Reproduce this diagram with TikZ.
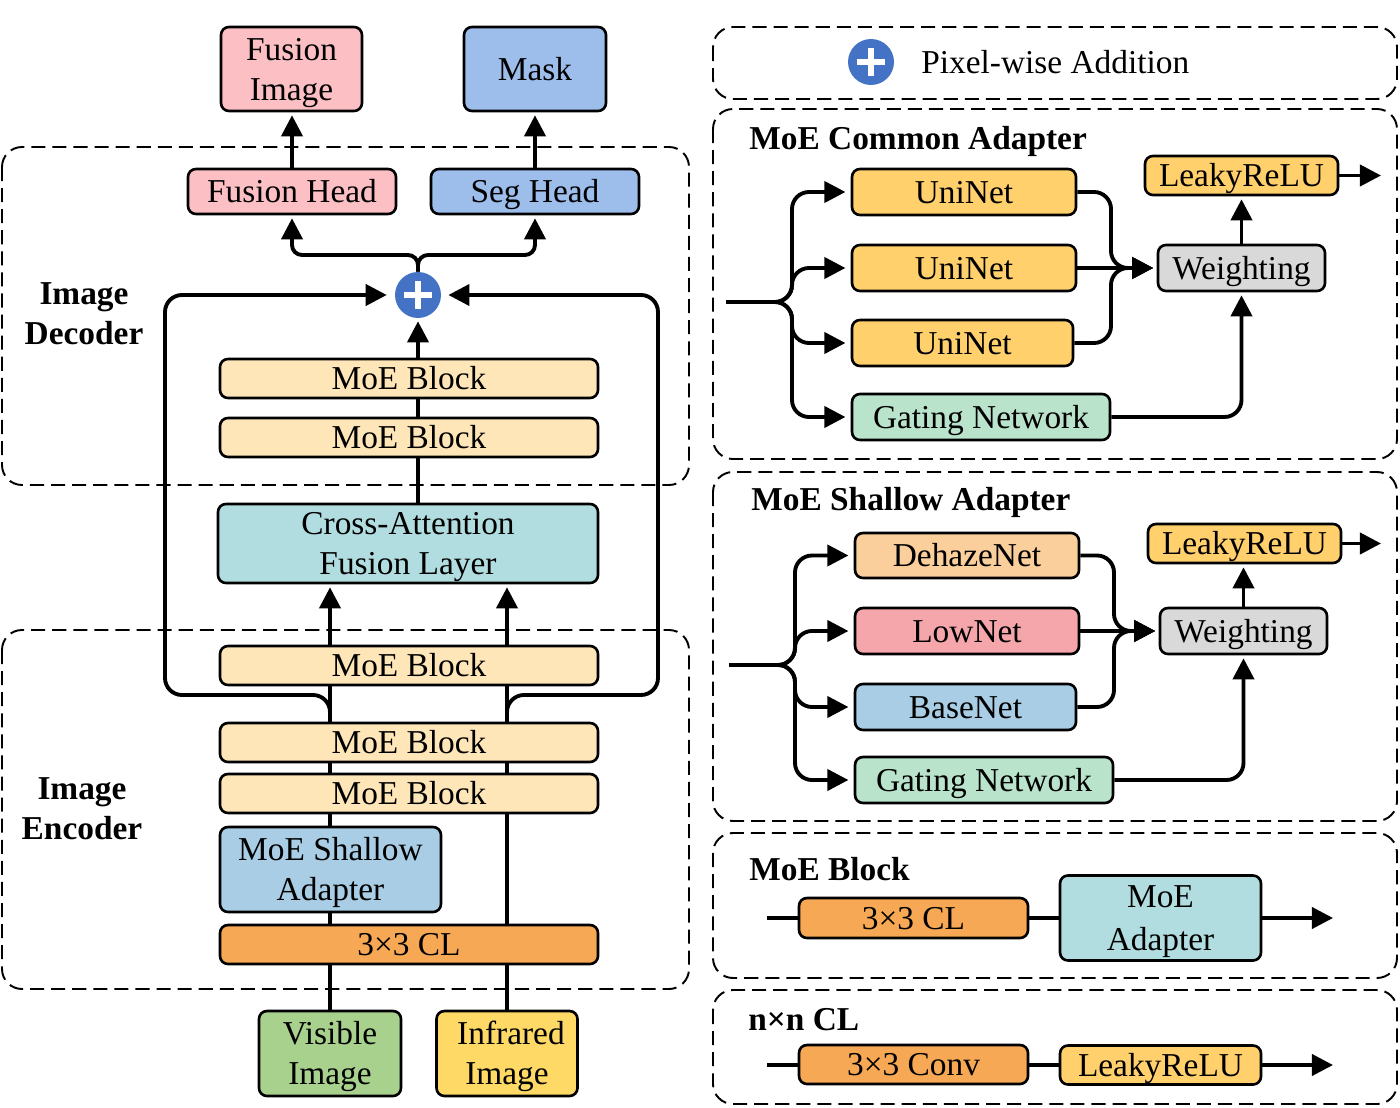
\documentclass[tikz,border=0pt]{standalone}
\usepackage{fontspec}
\setmainfont{Liberation Serif}
\usetikzlibrary{arrows.meta,backgrounds}

\definecolor{fusionpink}{HTML}{FBBFC4}
\definecolor{maskblue}{HTML}{9DBDEB}
\definecolor{blockcream}{HTML}{FFE6B8}
\definecolor{crossteal}{HTML}{B1DDE0}
\definecolor{shallowblue}{HTML}{A8CDE4}
\definecolor{clorange}{HTML}{F7A854}
\definecolor{visgreen}{HTML}{A9D18E}
\definecolor{infyellow}{HTML}{FFD966}
\definecolor{unigold}{HTML}{FFD06B}
\definecolor{gatemint}{HTML}{B9E3CB}
\definecolor{weightgray}{HTML}{D9D9D9}
\definecolor{dehazepeach}{HTML}{FBCF9B}
\definecolor{lowrose}{HTML}{F4A6AA}
\definecolor{addblue}{HTML}{4472C4}
\newcommand{\boxstrut}{\rule[-4.5pt]{0pt}{21.6pt}}

\begin{document}
\begin{tikzpicture}[
    x=0.02cm, y=-0.02cm,
    label text/.style={
      font=\fontsize{19}{22.7}\selectfont, inner sep=0pt, align=center,
      execute at begin node=\boxstrut,
    },
    box/.style 2 args={
      label text, draw=black, line width=1.5pt, rounded corners=0.16cm,
      minimum width=#1*0.02cm, minimum height=#2*0.02cm,
    },
    title/.style={label text, font=\fontsize{19}{22.7}\selectfont\bfseries},
    region/.style={draw=black, line width=1.1pt, dash pattern=on 8pt off 4pt, rounded corners=0.4cm},
    conn/.style={draw=black, line width=2.2pt},
    arr/.style={conn, -{Triangle[length=12pt,width=12pt]}, shorten >=1.7pt},
    curved/.style={rounded corners=0.34cm},
    addmark/.style={
      circle, fill=addblue, inner sep=0pt, minimum size=0.92cm,
      path picture={
        \draw[white, line width=3.3pt] (path picture bounding box.center) +(-14,0) -- +(14,0);
        \draw[white, line width=3.3pt] (path picture bounding box.center) +(0,-14) -- +(0,14);
      },
    },
  ]
  \useasboundingbox (0,0) rectangle (1400,1108);

  % main column
  \node[box={141}{84}, fill=fusionpink] (fimg) at (291.5,69) {\boxstrut Fusion\\\boxstrut Image};
  \node[box={142}{84}, fill=maskblue] (mask) at (535,69) {Mask};
  \node[box={208}{45}, fill=fusionpink] (fhead) at (292,191.5) {Fusion Head};
  \node[box={208}{45}, fill=maskblue] (shead) at (535,191.5) {Seg Head};
  \node[addmark] (add) at (418,295) {};
  \node[box={378}{39}, fill=blockcream] (moeA) at (409,378.5) {MoE Block};
  \node[box={378}{39}, fill=blockcream] (moeB) at (409,437.5) {MoE Block};
  \node[box={380}{79}, fill=crossteal] (cross) at (408,543.5) {\boxstrut Cross-Attention\\\boxstrut Fusion Layer};
  \node[box={378}{39}, fill=blockcream] (moeC) at (409,665.5) {MoE Block};
  \node[box={378}{39}, fill=blockcream] (moeD) at (409,742.5) {MoE Block};
  \node[box={378}{39}, fill=blockcream] (moeE) at (409,793.5) {MoE Block};
  \node[box={221}{85}, fill=shallowblue] (shallow) at (330.5,869.5) {\boxstrut MoE Shallow\\\boxstrut Adapter};
  \node[box={378}{39}, fill=clorange] (clA) at (409,944.5) {3×3 CL};
  \node[box={142}{85}, fill=visgreen] (vis) at (330,1053.5) {\boxstrut Visible\\\boxstrut Image};
  \node[box={141}{85}, fill=infyellow] (inf) at (507,1053.5) {\boxstrut\hspace*{4.5pt}Infrared\\\boxstrut Image};
  \node[title] (dectitle) at (84,313.5) {\boxstrut Image\\\boxstrut Decoder};
  \node[title] (enctitle) at (82,808.5) {\boxstrut Image\\\boxstrut Encoder};

  % legend
  \node[addmark] (addkey) at (871,62) {};
  \node[label text, anchor=west] (addtext) at (921,62) {Pixel-wise Addition};

  % common adapter
  \node[title, anchor=west] (comtitle) at (749,138) {MoE Common Adapter};
  \node[box={224}{46}, fill=unigold] (uniA) at (964,192) {UniNet};
  \node[box={224}{46}, fill=unigold] (uniB) at (964,268) {UniNet};
  \node[box={221}{46}, fill=unigold] (uniC) at (962.5,343) {UniNet};
  \node[box={258}{46}, fill=gatemint] (gateA) at (981,417) {Gating Network};
  \node[box={167}{46}, fill=weightgray] (wgtA) at (1241.5,268) {Weighting};
  \node[box={193}{39}, fill=unigold] (leakA) at (1241.5,175.5) {LeakyReLU};
  \coordinate (inA) at (726,302);
  \coordinate (trunkA) at (792,302);
  \coordinate (mergeA) at (1111,268);
  \coordinate (outA) at (1381,175.5);

  % shallow adapter
  \node[title, anchor=west] (shtitle) at (751,499) {MoE Shallow Adapter};
  \node[box={224}{45}, fill=dehazepeach] (dehaze) at (967,555.5) {DehazeNet};
  \node[box={224}{46}, fill=lowrose] (low) at (967,631) {LowNet};
  \node[box={221}{46}, fill=shallowblue] (base) at (965.5,707) {BaseNet};
  \node[box={258}{46}, fill=gatemint] (gateB) at (984,780) {Gating Network};
  \node[box={167}{46}, fill=weightgray] (wgtB) at (1243.5,631) {Weighting};
  \node[box={193}{39}, fill=unigold] (leakB) at (1244.5,543.5) {LeakyReLU};
  \coordinate (inB) at (729,665);
  \coordinate (trunkB) at (795,665);
  \coordinate (mergeB) at (1114,631);
  \coordinate (outB) at (1381,543.5);

  % block and cl keys
  \node[title, anchor=west] (blocktitle) at (749,869) {MoE Block};
  \node[box={229}{40}, fill=clorange] (clB) at (913.5,918) {3×3 CL};
  \node[box={201}{85}, fill=crossteal] (adapter) at (1160.5,918) {\boxstrut MoE\\[1.5pt]\boxstrut Adapter};
  \coordinate (inC) at (767,918);
  \coordinate (outC) at (1333,918);
  \node[title, anchor=west] (cltitle) at (748,1019) {n×n CL};
  \node[box={229}{39}, fill=clorange] (conv) at (913.5,1064.5) {3×3 Conv};
  \node[box={201}{39}, fill=unigold] (leakC) at (1160.5,1065) {LeakyReLU};
  \coordinate (inD) at (767,1065);
  \coordinate (outD) at (1333,1065);

  \begin{scope}[on background layer]
    \draw[region] (2,147) rectangle (689,485);
    \draw[region] (2,630) rectangle (689,989);
    \draw[region] (713,27) rectangle (1397,99);
    \draw[region] (713,109) rectangle (1397,459);
    \draw[region] (713,472) rectangle (1397,821);
    \draw[region] (713,833) rectangle (1397,978);
    \draw[region] (713,990) rectangle (1397,1104);

    % main column connectors
    \draw[arr] (fhead.north) -- (fhead.north |- fimg.south);
    \draw[arr] (shead.north) -- (shead.north |- mask.south);
    \coordinate (split) at (418,255);
    \draw[arr, rounded corners=0.2cm] (add.north) -- (split) -- (split -| fhead.south) -- (fhead.south);
    \draw[arr, rounded corners=0.2cm] (add.north) -- (split) -- (split -| shead.south) -- (shead.south);
    \draw[arr] (add.south |- cross.north) -- (add.south);
    \draw[arr] (vis.north) -- (vis.north |- cross.south);
    \draw[arr] (inf.north) -- (inf.north |- cross.south);
    \coordinate (skipL) at (165,695);
    \coordinate (skipR) at (658,695);
    \draw[arr, curved, shorten >=4.5pt] (vis.north |- moeD.north) -- (vis.north |- skipL) -- (skipL) -- (skipL |- add) -- (add.west);
    \draw[arr, curved, shorten >=4pt] (inf.north |- moeD.north) -- (inf.north |- skipR) -- (skipR) -- (skipR |- add) -- (add.east);

    % common adapter connectors
    \foreach \tgt in {uniA,uniB,uniC,gateA}
      \draw[arr, curved, shorten >=3pt] (inA) -- (trunkA) -- (trunkA |- \tgt.west) -- (\tgt.west);
    \draw[arr, curved, shorten >=2pt] (uniA.east) -- (mergeA |- uniA.east) -- (mergeA) -- (wgtA.west);
    \draw[arr, curved, shorten >=2pt] (uniC.east) -- (mergeA |- uniC.east) -- (mergeA) -- (wgtA.west);
    \draw[arr, shorten >=2pt] (uniB.east) -- (wgtA.west);
    \draw[arr, curved] (gateA.east) -- (gateA.east -| wgtA.south) -- (wgtA.south);
    \draw[arr] (wgtA.north) -- (leakA.south);
    \draw[arr, shorten >=0pt] (leakA.east) -- (outA);

    % shallow adapter connectors
    \foreach \tgt in {dehaze,low,base,gateB}
      \draw[arr, curved, shorten >=3pt] (inB) -- (trunkB) -- (trunkB |- \tgt.west) -- (\tgt.west);
    \draw[arr, curved, shorten >=2pt] (dehaze.east) -- (mergeB |- dehaze.east) -- (mergeB) -- (wgtB.west);
    \draw[arr, curved, shorten >=2pt] (base.east) -- (mergeB |- base.east) -- (mergeB) -- (wgtB.west);
    \draw[arr, shorten >=2pt] (low.east) -- (wgtB.west);
    \draw[arr, curved] (gateB.east) -- (gateB.east -| wgtB.south) -- (wgtB.south);
    \draw[arr] (wgtB.north) -- (wgtB.north |- leakB.south);
    \draw[arr, shorten >=0pt] (leakB.east) -- (outB);

    % key connectors
    \draw[conn] (inC) -- (clB.west);
    \draw[conn] (clB.east) -- (clB.east -| adapter.west);
    \draw[arr, shorten >=0pt] (adapter.east) -- (outC);
    \draw[conn] (inD) -- (conv.west |- inD);
    \draw[conn] (conv.east |- inD) -- (leakC.west);
    \draw[arr, shorten >=0pt] (leakC.east) -- (outD);
  \end{scope}
\end{tikzpicture}
\end{document}
